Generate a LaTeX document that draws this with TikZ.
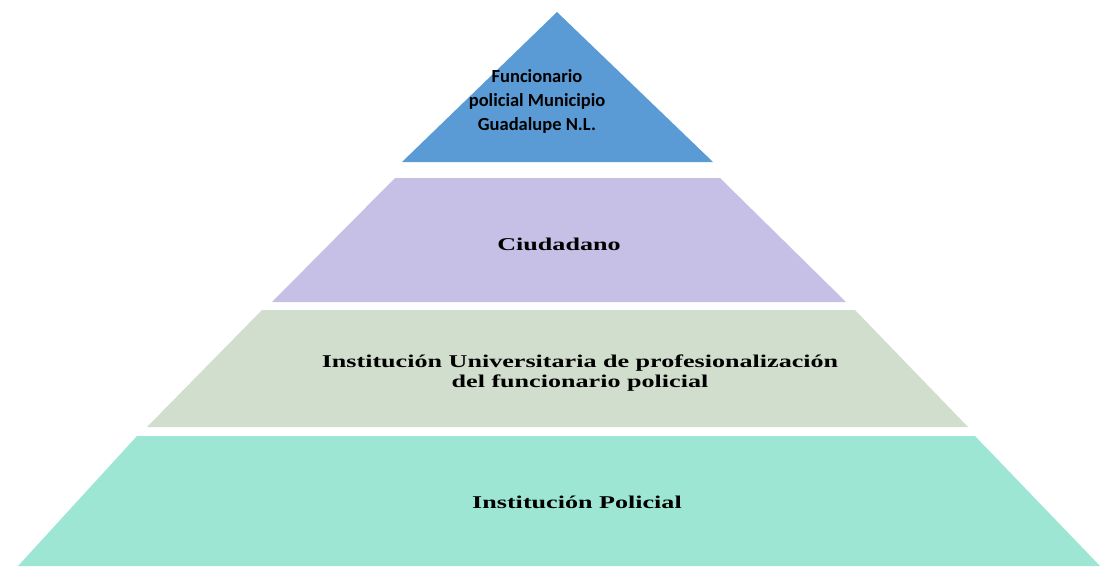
\documentclass[tikz,border=0pt]{standalone}
\usepackage{fontspec}
\newfontfamily\tiersans{Carlito}
\newfontfamily\tierserif[FakeStretch=1.45]{Liberation Serif}
\usepackage{tikz}
\usetikzlibrary{
  calc,
  positioning,
}
\definecolor{tierblue}{RGB}{91,155,213}
\definecolor{tierlilac}{RGB}{199,192,230}
\definecolor{tiersage}{RGB}{210,222,205}
\definecolor{tiermint}{RGB}{158,230,212}
\tikzset{
  tier/.style={draw=none},
  toplabel/.style={align=center, font=\tiersans\bfseries\fontsize{18.5}{24}\selectfont},
  tierlabel/.style={align=center, font=\tierserif\bfseries\fontsize{18}{20}\selectfont},
}

\begin{document}
\begin{tikzpicture}[x=1pt, y=-1pt]
      \useasboundingbox (0,0) rectangle (1100,566);

      \fill [tier, fill=tierblue]  (402,162) -- (557,12) -- (713,162) -- cycle;
      \fill [tier, fill=tierlilac] (272,302) -- (395,178) -- (720,178) -- (846,302) -- cycle;
      \fill [tier, fill=tiersage]  (147,427) -- (262,310) -- (855,310) -- (968,427) -- cycle;
      \fill [tier, fill=tiermint]  (18,566) -- (137,436) -- (975,436) -- (1100,566) -- cycle;

      \node [toplabel] (func) at (537,101) {Funcionario\\policial Municipio\\Guadalupe N.L.};
      \node [tierlabel] (ciud) at (559,244) {Ciudadano};
      \node [tierlabel] (univ) at (580,373) {Institución Universitaria de profesionalización\\del funcionario policial};
      \node [tierlabel] (inst) at (577,502) {Institución Policial};
    \end{tikzpicture}
\end{document}
